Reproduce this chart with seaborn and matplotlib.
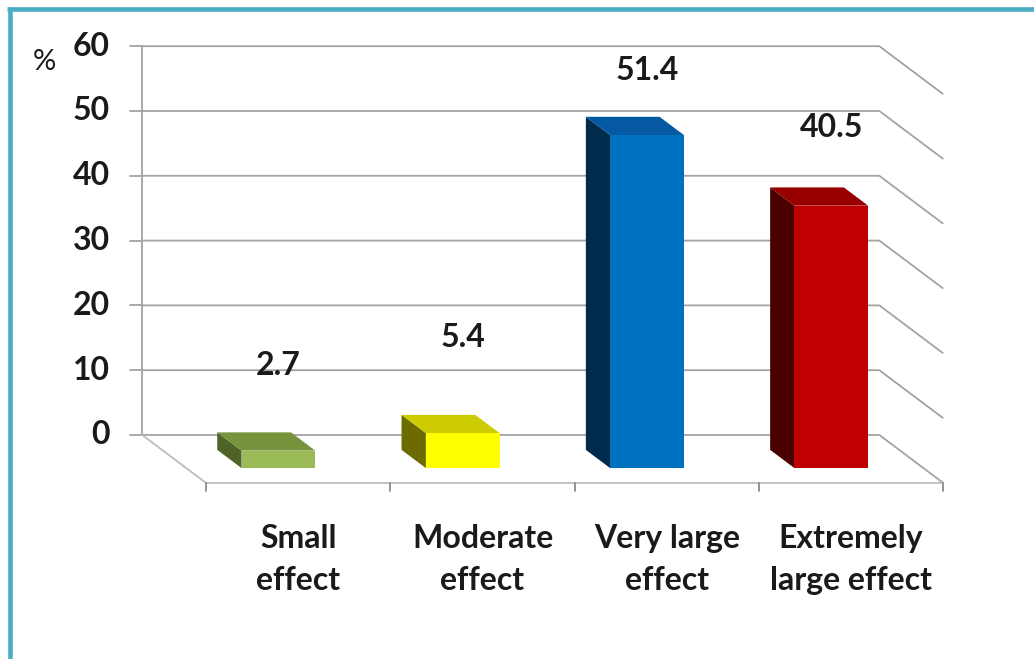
import matplotlib
matplotlib.use("Agg")
import matplotlib.pyplot as plt
import seaborn as sns
import pandas as pd
from matplotlib.patches import Polygon
from matplotlib.lines import Line2D

# ---- data -------------------------------------------------------------
categories = ["Small\neffect", "Moderate\neffect", "Very large\neffect", "Extremely\nlarge effect"]
percent = [2.7, 5.4, 51.4, 40.5]
y_ticks = [0, 10, 20, 30, 40, 50, 60]

# ---- styling ----------------------------------------------------------
front_colors = ["#9BBB59", "#FFFF00", "#0070C0", "#C00000"]
top_colors = ["#77933C", "#CCCC00", "#0558A2", "#980000"]
side_colors = ["#4F6228", "#6B6B00", "#002B4D", "#4A0000"]
label_lift = [13.2, 14.7, 10.0, 12.0]   # height of value labels above bar tops

GRID = "#A3A3A3"
FLOOR = "#BDBDBD"
BORDER = "#4BACC6"
TEXT = "#1a1a1a"
FS = 23

# oblique "3-D" geometry (depth 0 = back wall, 1 = front of the floor)
DX, DY = 0.347, 7.41          # shift per unit depth (category units, value units)
D_FRONT, D_BACK = 0.69, 0.31  # depth of bar front / back faces


def project(x, y, d):
    """Map a point at depth d onto the plane of the bar front faces."""
    s = d - D_FRONT
    return x + s * DX, y - s * DY


sns.set_style("white")
plt.rcParams["font.family"] = ["Lato", "DejaVu Sans"]

fig = plt.figure(figsize=(10.34, 6.59), dpi=100)
ax = fig.add_axes([0, 0, 1, 1])

df = pd.DataFrame({"category": categories, "percent": percent})
sns.barplot(data=df, x="category", y="percent", hue="category",
            palette=front_colors, saturation=1, width=0.4, legend=False,
            linewidth=0, ax=ax, zorder=6)

ax.set_xlim(-1.5106, 4.0998)
ax.set_ylim(-29.46, 72.24)
ax.set_axis_off()

x_left, x_right = -0.5, len(categories) - 0.5

# back wall gridlines wrapping onto the right side wall
for t in y_ticks:
    p0 = project(x_left, t, 0)
    p1 = project(x_right, t, 0)
    p2 = project(x_right, t, 1)
    ax.plot([p0[0], p1[0], p2[0]], [p0[1], p1[1], p2[1]],
            color=GRID, lw=1.3, zorder=1, solid_capstyle="butt")
    # small tick to the left of the value axis
    ax.plot([p0[0] - 0.065, p0[0]], [p0[1], p0[1]], color=GRID, lw=1.3, zorder=1)
    lx, ly = project(-0.675, t, 0)
    ax.text(lx, ly, f"{t}", ha="right", va="center",
            fontsize=FS, fontweight="bold", color=TEXT)

# value axis line
a0 = project(x_left, 0, 0)
a1 = project(x_left, y_ticks[-1], 0)
ax.plot([a0[0], a1[0]], [a0[1], a1[1]], color=GRID, lw=1.3, zorder=1)

# floor: left edge and front edge
f0 = project(x_left, 0, 1)
f1 = project(x_right, 0, 1)
ax.plot([a0[0], f0[0], f1[0]], [a0[1], f0[1], f1[1]], color=FLOOR, lw=1.3, zorder=1)

# category boundary ticks on the front edge
for k in range(len(categories) + 1):
    bx, by = project(k - 0.5, 0, 1)
    ax.plot([bx, bx], [by, by - 1.25], color="#8C8C8C", lw=1.3, zorder=1)

# side and top faces of each bar, then value labels
bars = sorted(ax.patches, key=lambda p: p.get_x())
for i, bar in enumerate(bars):
    x0 = bar.get_x()
    w = bar.get_width()
    h = bar.get_height()
    bx0, by0 = project(x0, 0, D_BACK)
    bxt, byt = project(x0, h, D_BACK)
    brx, bry = project(x0 + w, h, D_BACK)
    side = Polygon([(x0, 0), (x0, h), (bxt, byt), (bx0, by0)], closed=True,
                   facecolor=side_colors[i], edgecolor="none", zorder=4)
    top = Polygon([(x0, h), (x0 + w, h), (brx, bry), (bxt, byt)], closed=True,
                  facecolor=top_colors[i], edgecolor="none", zorder=5)
    ax.add_patch(side)
    ax.add_patch(top)
    ax.text(x0 + w / 2, h + label_lift[i], f"{percent[i]:.1f}",
            ha="center", va="center", fontsize=FS, fontweight="bold", color=TEXT,
            zorder=8)

# category labels under the floor
for i, name in enumerate(categories):
    cx, cy = project(i, 0, 1)
    for j, line in enumerate(name.split("\n")):
        ax.text(cx, cy - 8.5 - 6.5 * j, line, ha="center", va="center",
                fontsize=FS, fontweight="bold", color=TEXT)

# unit label
ux, uy = project(-1.03, 57.5, 0)
ax.text(ux, uy, "%", ha="center", va="center", fontsize=21, color=TEXT)

# frame around the chart
W, H = 1034, 659
fig.add_artist(Line2D([7 / W, 1], [1 - 9 / H, 1 - 9 / H], transform=fig.transFigure,
                      color=BORDER, lw=3.3, solid_capstyle="butt"))
fig.add_artist(Line2D([10 / W, 10 / W], [0, 1 - 7 / H], transform=fig.transFigure,
                      color=BORDER, lw=3.3, solid_capstyle="butt"))

fig.savefig("out.png", dpi=100)
